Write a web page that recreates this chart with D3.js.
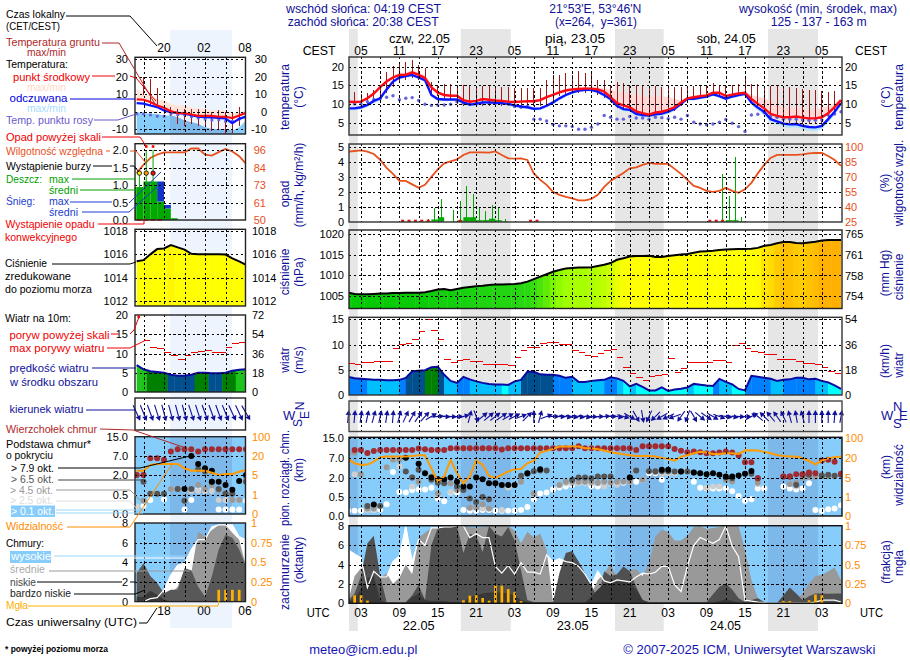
<!DOCTYPE html>
<html><head><meta charset="utf-8"><title>Meteogram</title>
<script src="https://cdn.jsdelivr.net/npm/d3@7"></script>
<style>html,body{margin:0;padding:0;background:#fff}svg{display:block}text{font-family:"Liberation Sans",Arial,sans-serif}</style>
</head><body><svg id="c" width="910" height="660"></svg>
<script>
// ---------- main meteogram data (hours since 00 UTC 22.05) ----------
const hours = d3.range(1,79);
const tMid = [10.6,10.5,10.6,11.5,12.8,14.5,16,17.1,17.8,17.8,
 18.5,17.8,17,14.4,13,12.4,12.2,12.2,11,10.6,
 10.8,11.3,11.1,10.9,10.8,10.6,10.5,10.6,10.7,10.7,
 11,11.8,12.4,13.1,13.6,13.9,14,14.1,14.1,13.9,
 13.3,11.8,10.2,9.6,9.1,8,7.5,7.1,7.7,7.9,
 8.4,9.1,10.4,11.5,11.8,12.1,12.3,13,13,12.1,
 12.5,12.8,13,11.3,10,8.8,7.3,6.8,6.4,6.4,
 6.6,6.3,6.1,6.1,6.4,7.5,9.1,11];
const tMax = [10.9,10.8,11,12,13,15,16.5,17.6,18.4,18.5,
 19,18.5,17.5,15,13.5,12.8,12.5,12.5,11.4,11,
 11.2,11.6,11.4,11.2,11.2,11,10.9,11,11.1,11.1,
 11.5,12.2,12.9,13.6,14.1,14.4,14.5,14.6,14.6,14.5,
 14.2,13.8,13.3,13,12.6,12.4,12.2,12,12,12,
 11.9,11.3,11,11.8,12.1,12.4,12.6,13.2,13.2,12.5,
 12.8,13,13.3,12.4,11.9,11.5,10.8,9.6,9.3,9,
 8.8,8.6,8.4,8.2,9,9.5,10.2,11.4];
const fMid = [8.8,8.8,9.1,9.7,10.8,11.5,13.9,16,17.1,17.5,
 17.8,17.1,16.4,12.4,11.3,11.2,11.2,11.2,10.4,9.8,
 10,10.4,10.4,10.3,10.2,10,9.6,9.3,9.1,8.7,
 8.8,9.5,10.4,11.5,12.4,13.1,13.6,13.8,13.8,13.3,
 12.4,11.3,9.5,8.6,8.4,7.3,7,6.9,7.2,7.4,
 7.9,8.7,10,11.4,11.4,11.7,12,12.6,12.1,11.4,
 12,12.4,12.7,10.4,9,7.9,5.9,5.3,4.7,4.5,
 4.6,4.1,3.8,3.7,4.1,5.9,7.9,10.2];
const fMin = [8.3,8.3,8.5,9.2,10.2,10.9,13.2,15.4,16.6,17,
 17.3,16.6,15.8,11.9,10.8,10.7,10.8,10.7,9.9,9.3,
 9.5,9.9,9.9,9.8,9.8,9.6,9.1,8.8,8.6,8.2,
 8.3,9,9.9,11,11.9,12.6,13.1,13.3,13.3,12.8,
 11.9,10.7,8.9,8,7.8,6.7,6.4,6.3,6.6,6.8,
 7.3,8.1,9.5,10.9,10.9,11.2,11.5,12.1,11.6,10.9,
 11.5,11.9,12.2,9.7,8.2,7,5.1,4.4,3.8,3.6,
 3.7,3.1,2.8,2.7,3.2,5,7,9.5];
const dewPoint = [9.7,10,10,10.6,11.2,11.4,11.8,12.2,11.1,11.5,
 11.7,10.9,9.9,9.6,9.7,9.7,9.9,10.6,10.2,10,
 10.5,10.2,10.2,10.2,10.2,10,9.3,9.1,9.3,5.9,
 5.9,5.4,4.5,4.1,4.1,3.9,3.2,3.2,3.7,4.6,
 6.9,6.4,5.9,5.9,6.6,6.2,6.2,5.9,6.4,6.3,
 6,6.4,5.9,6.9,5.1,4.6,4.4,4.6,5.1,5.8,
 4.8,3.9,2.6,7,7.2,7.7,6.6,6.4,5.9,5.9,
 5.9,5.7,5.6,5.6,5.7,7,7.3,7.9];
const groundMax = [10,13.3,12.6,13,13.8,15.1,18.7,20.3,20.9,21.2,
 21.8,20.4,19.6,15.8,15.1,15.4,15.3,15.1,15,15,
 14.8,14.8,14.8,14.6,14.5,14.5,14.2,14.2,14.2,14.2,
 14.2,16.4,17.8,17.9,18.4,17.9,18.9,18.4,18,16.4,
 16.4,15.1,15.8,15.5,15.1,15,14.9,14.8,14.8,14.6,
 15.1,14.5,14.5,14.5,14.8,14.8,14.8,15.5,15.1,14.8,
 15.1,15.3,16.6,15.4,15.3,14.9,14.8,14.8,14.5,14.6,
 14.3,13.9,13.8,13.8,13.6,13.3,13.5,11.1];
const groundMin = [10,9.8,10,10,10.5,11.5,13,14.5,16,16.5,
 17,16.5,15.5,13,12,11,11,10,9.5,9.5,
 9.5,9.5,9.5,9.5,9.5,9.5,9.5,9.5,9.5,9.5,
 9.5,10,11,12,12.5,13,13,13,13,12.5,
 11.5,10.5,9,8.5,8,7,7,6.5,7,7,
 7.5,8,9.5,11,11.5,11.5,12,12.5,12,11.5,
 12,12,12,10,9,7.5,6,6,5.5,5,
 5,4.5,4.5,4.5,5,6,8,10];
const humidity = [95.3,96,96.7,95.3,93,87,79,73,66,66,
 62.5,59,62,70,77.5,83.6,85.6,87.6,92,94.6,
 94.6,94.6,94.3,95.6,92,88.6,88.3,88.6,87,73.5,
 67,62,55,52,50,48.4,46.4,46.4,47.8,52,
 60,66,70,74,78.6,79.6,82,84,83,83,
 83,78,73,67,61,59,56,55,56,59,
 56,54,57.5,64,73.5,82,89,92,92,92,
 92,92.6,93.6,94,94,91,87,81];
const rainHours = [13,14,15,17,18,19,20,21,22,23,24,25,59,60,61,62];
const rainMaxV  = [.2,.9,1.5,.8,1.4,2.4,1.85,1,.7,1.1,1,.15,3.2,1.75,4.3,.3];
const rainAvgV  = [.03,.15,.3,.02,.08,.3,.3,.1,.1,.2,.1,.03,.03,.1,.1,.03];
const convHours = [9,10,11,12,13,18,29,30,57,58,59];
const pressure = [1005.8,1005.5,1005.4,1005.4,1005.5,1005.6,1005.6,1005.7,1005.7,1005.8,
 1005.8,1005.8,1005.9,1006.2,1006.6,1006.7,1006.4,1006.7,1007,1007.2,
 1007.35,1007.5,1007.7,1007.8,1007.8,1007.85,1007.9,1008.1,1008.5,1009.1,
 1009.7,1010.3,1010.9,1011.3,1011.7,1011.8,1011.9,1011.9,1012,1012.3,
 1012.6,1013,1013.8,1014.2,1014.6,1014.7,1014.7,1014.8,1014.5,1014.5,
 1014.7,1014.9,1015.1,1015.2,1015.5,1015.8,1015.9,1016,1016.2,1016.3,
 1016.35,1016.4,1016.4,1016.5,1016.7,1017.2,1017.4,1017.8,1018.1,1018.1,
 1017.9,1017.8,1018,1018.2,1018.5,1018.6,1018.6,1018.6];
const windSpeed = [3.6,3.3,3.2,3.1,3,3,2.9,2.9,3,3.4,
 4.7,4.8,4.9,5.5,5.6,4,2.8,2.4,3.6,3.1,
 2.7,2.4,2.2,2.1,2.1,2,2.7,3,4.6,4.6,
 4.1,4,4,3.8,3.4,3.6,2.6,2.6,2.8,2.9,
 3,3.5,3.3,2.8,1.7,2.2,1.6,.9,.9,1.5,
 .8,1.1,1.25,1.5,2.2,2.04,1.9,1.8,3.2,2.6,
 2.1,1.2,.9,3.8,3.6,3.4,3.2,2.8,3,3.1,
 3.4,3.4,3.1,3.2,2.8,2.5,1.9,1.2];
const windGust = [6.7,6.3,6.1,6.5,6.5,6.75,6.75,6.75,9.25,10.1,
 10.3,11,12.6,15,12.8,11,7.1,6.5,6.9,7.1,
 6.7,6.7,6.1,6.1,6.1,6.1,5.9,7.5,9,9.6,
 9.6,10.4,10.6,10.6,10.2,10.2,9,8.5,7.9,7.7,
 8.3,8.9,9.2,7.5,5.5,4.3,3.5,2.9,3.8,4,
 4.1,7.3,4.5,5.3,6.5,6.5,6.5,6.5,6.9,6.9,
 6.5,9.9,10.3,9.3,8.7,8.5,8.1,8.1,7.1,7.1,
 7.1,6.7,6.3,6.3,6.1,5.5,4.7,4.3];
const windDir = [5,5,8,12,15,12,8,5,15,25,
 30,35,42,60,85,95,95,90,75,15,
 160,50,50,52,55,60,62,70,45,0,
 15,70,90,95,100,100,100,100,95,90,
 85,90,100,105,120,150,170,205,225,240,
 245,250,215,200,150,130,125,120,110,100,
 100,95,90,60,-50,-45,-40,-35,-25,-15,
 -10,-15,0,0,0,0,5,10];
const cloudTop = [null,10.3,10.3,9.1,9.9,10.3,10.3,10.3,10.3,10.3,
 10.3,10.9,10.6,10.3,10.3,10.3,11,11,11,11,
 11,11,11,11,10.5,11,11,11,11,11,
 11,11,11,11,11,11,11.7,11,11,11,
 11,11,11,11,11,10.3,11.7,11.7,11.7,11.7,
 11.7,10.7,10,9.4,9.7,9.4,9,9,9.3,9.7,
 9.3,8.1,6,6,1.95,null,null,null,2.25,2.25,
 2.85,2.85,3.3,3.1,6.4,6.6,6.1,2.95];
const base79 = [[5,.3],[10,7.2],[12,5.55],[13,3.1],[14,2],[15,1.87],[16,1.87],[17,2],[18,1.68],[19,1.3],[20,1.3],[21,2],[22,1.87],[23,1.55],[24,1.55],[25,1.42],[26,1.42],[27,1.42],[29,3.1],[31,4.15],[45,2],[50,4],[51,4],[53,3.55],[55,3.3],[56,3.1],[57,2.85],[58,3.1],[59,2.7],[60,2.26],[61,2.26],[62,2.5],[63,2.95],[64,3.7]];
const base65 = [[4,.26],[6,.26],[10,3.55],[11,2],[12,4],[14,1.82],[15,1.6],[16,1.55],[18,1.3],[19,1.03],[20,.46],[21,.37],[22,.5],[23,.44],[28,2.43],[29,3],[30,3.65],[31,3.8],[32,3.8],[36,1.82],[37,2],[38,2],[39,1.95],[40,2.26],[41,2.26],[42,2.26],[45,2],[46,3.8],[48,3.65],[49,3.65],[50,3.65],[51,3.65],[52,3.55],[53,3.55],[54,3.55],[55,3.3],[60,2],[61,1.95],[64,2.95],[65,1.95],[69,2.26],[70,2.26],[71,1.42],[72,2.7],[73,2.7],[75,2.5],[76,2.7],[77,2.43],[78,2.7]];
const base45 = [[1,9],[2,9.3],[3,2.85],[4,.2],[5,.2],[7,4.7],[8,6.6],[9,6.6],[11,2],[12,1.68],[14,2.26],[15,.76],[17,1.55],[18,1.03],[19,1.03],[20,.22],[21,.22],[22,.31],[23,.2],[28,1.68],[30,.76],[34,1.42],[35,1.68],[36,1.68],[37,1.68],[38,1.68],[39,1.68],[40,1.6],[41,1.68],[42,1.6],[43,1.68],[44,1.68],[45,1.68],[47,1.82],[49,3.4],[60,1.8],[61,1.7],[65,1.6],[70,1.5],[71,1.6],[72,2],[73,2.1],[74,2.2],[75,2.3],[76,2.3],[77,2.3]];
const base25 = [[2,2.85],[4,.16],[5,.16],[7,4.7],[8,6.6],[9,4.85],[11,1.3],[12,1.68],[15,.63],[17,.89],[20,.22],[21,.22],[22,.2],[23,.2],[25,.16],[26,1.24],[27,1.42],[30,.68],[34,1.42],[35,1.55],[36,1.55],[37,1.55],[38,1.55],[39,1.55],[40,1.55],[41,1.3],[43,1.45],[45,1.7],[47,1.8],[50,3],[51,3],[52,3.2],[57,1.2],[58,1.3],[59,1.3],[65,1.5],[70,1.5],[71,1.3]];
const base01 = [[1,.14],[2,.14],[3,.14],[5,.16],[6,.17],[7,.31],[8,3.4],[9,.89],[10,.84],[11,1.03],[12,1.08],[13,1.08],[14,1.21],[15,.46],[16,.39],[17,.84],[18,.84],[19,.16],[20,.14],[21,.14],[22,.16],[23,.16],[24,.14],[25,.14],[26,.14],[27,.14],[28,.16],[29,.24],[30,.44],[31,.76],[32,.84],[33,1.08],[34,1.24],[35,1.3],[36,1.42],[37,1.6],[38,1.6],[39,1.34],[40,1.3],[41,1.6],[42,1.55],[43,1.6],[44,1.6],[45,1.68],[46,1.68],[47,1.82],[48,3.1],[49,3.1],[50,1.82],[51,3.55],[55,1.68],[56,1.21],[57,1.16],[58,1.16],[59,1.16],[60,1.16],[61,.95],[62,.58],[63,.4],[64,.44],[65,1.16],[66,1.16],[69,1.3],[70,1.16],[71,1.08],[72,1.16],[73,1.55],[74,.16],[75,.13],[76,.18],[77,.2],[78,.28]];
const visibility = [19.5,16.1,14.8,15.1,17.4,24,26.7,26.7,26.7,26.7,
 29.3,32,32,12.2,4.2,5.8,18.7,8.4,3.8,5.8,
 18.2,15,6.3,4.9,7.1,9.7,11.5,11.7,16.1,18.2,
 42.7,49.3,57.3,66.7,66.7,66.7,66.7,60,60,56,
 50.7,44,40,36,32,29.3,29.3,29.3,26.7,21.3,
 19.7,18.2,26.7,32,40,45.3,42.7,37.3,37.3,40,
 40,37.3,50.7,52,50.7,45.3,40,33.3,29.3,26.7,
 26.7,20,17.9,15.3,18.2,20,24,26.7];
const cloudHigh = [5.5,5.1,4.7,1.6,3.3,2.7,2.7,4.3,4.9,8,
 4.3,6.6,6,7.8,7.8,7.9,7.9,8,8,6.8,
 7.2,6.8,6.8,3.8,3.1,3.9,3,4.2,3.2,3.2,
 3,5,4.3,4.6,4.3,4.2,3.8,3,1.9,3.3,
 2.3,2.1,2.4,2.3,2.2,2.7,3.1,3,3.2,3.8,
 3.8,1.9,1.2,3.8,6,6.8,6.5,6.2,6.6,8,
 5.9,4.8,.3,.2,.1,.05,0,0,0,0,
 0,0,.02,.1,.3,.3,.3,.1];
const cloudMid = [.2,2.8,3.6,3.1,2.6,2.6,3.1,2,2.6,4,
 3,6.8,7.3,7.8,7.9,8,8,8,8,7.9,
 7.8,7.9,8,8,8,8,7.5,6.2,7.4,6.8,
 7.2,5.5,.1,.3,.3,.2,.2,.2,1,2.4,
 3.1,4.1,2.6,2.8,3.4,3.5,2.8,4.1,6.9,7.6,
 7.4,6.5,6.5,7,7.9,8,7.7,7.8,7.9,8,
 8,8,5.5,2.4,.5,.1,0,0,0,0,
 .2,1,2,2.8,2.9,3.3,3.7,2.4];
const cloudLow = [.2,1,2.8,6.2,7,2.8,.1,.1,.07,.1,
 .8,1.9,.3,6,7.8,7.9,8,8,5.2,7.2,
 7,5.3,8,7.2,6.9,7.9,6.5,3.4,.3,.1,
 .1,.1,.1,3.1,5.2,5.4,4.3,3.1,1.9,.3,
 3.3,2.8,3,3.8,3.3,1.7,.3,.1,.1,.1,
 .1,.1,.1,.1,.1,.1,.1,.9,1.7,2,
 1.4,.5,.1,.3,.5,.1,0,0,.8,1.6,
 1,.3,.7,1,1,.95,1,1];
const cloudVeryLow = [.1,.5,1.4,2.6,2.8,.3,0,0,0,0,
 .6,1,.3,.2,.2,.2,.1,.1,.1,.6,
 .8,1,1.1,1.1,1.1,1,.8,.3,.1,0,
 0,0,0,0,0,0,0,0,.7,1.4,
 2,2.1,2.2,2.2,2,1.4,.3,0,0,0,
 0,0,0,0,0,0,0,0,.2,.4,
 .2,0,0,0,0,0,0,0,0,0,
 0,0,0,0,0,0,0,0];
const fogHours = [2,3,4,19,20,21,22,23,24,25,26,27,28,69,70,73,74,75];
const fogV = [.1,.1,.03,.035,.095,.1,.065,.03,.23,.225,.18,.14,.025,.025,.025,.035,.11,.1];

// ---------- left legend-example data ----------
const leftHours = d3.range(14,31);
const lTMid = [6.9,6.7,5.4,3.4,2.1,.2,-1,-1,-1.7,-2.5,-2.5,-2.5,-3,-3,-3.8,-2.3,-.8];
const lFMid = [4.8,4.5,3.4,2.5,.6,-.4,-.8,-1.3,-2.1,-3,-3.2,-3.4,-3.6,-4,-6.7,-4.2,-2.9];
const lTMax = [13,10.2,9.2,7.3,6.3,4.4,3.4,3.4,2.5,1.5,1.5,.6,.6,.2,-1,-.4,.6];
const lFMin = [-.4,-.8,-1.3,-1.3,-2.3,-2.3,-3.3,-5.2,-6.1,-7.1,-9,-10,-10,-10,-10.9,-9,-5.2];
const lDew = [-1.3,-1.3,-1.9,-2.7,-2.7,-1.3,-1.7,-1.7,-2.9,-3.6,-4.2,-4.8,-4.6,-5.6,-5.6,-4.2,-3.3];
const lGMax = [null,20,18.8,13.6,2.5,2.5,1.5,1.5,1.5,1.5,1.5,-.4,.6,-.4,-.4,2.5,-.4];
const lGMin = [null,9.2,4,2,-1.3,-2.3,-7.1,-8,-7.1,-8,-9,-10.9,-10,-12.8,-12.5,-8,-2.3];
const lHumidity = [80.8,86.3,90.7,93,94.4,94.4,94.4,94.4,97,97,93,92.3,94.6,96.7,95,91.9,87];
const lRainHours = [13,14,15,16,17,18,19];
const lRain = [.94,.94,1.1,1.1,.53,.33,.05];
const lSnow = [0,0,0,0,.57,.1,0];
const lRainMaxHours = [14,15,16];
const lRainMax = [1.3,2,2];
const lOverflowHours = [15,16];
const lStormHours = [14,15,16];
const lStormLevel = 1.34;
const lOverflowLevel = 2.1;
const lConvHours = [14,15,16,17];
const lPressure = [1015.4,1015.5,1016,1016.45,1016.5,1016.8,1016.6,1016.4,1016.05,1016,1016,1016,1016,1015.98,1015.65,1015.4,1015.1];
const lWind = [7,5.9,5.4,5.2,5,4.5,4.2,4.2,4.5,5,5,4.9,4.9,5,5.5,5.8,5.9];
const lGust = [null,13.4,11.6,11.3,10.4,9.6,8.7,9.7,10.4,10.7,10.8,10.4,10.4,11.6,12.6,12.9,null];
const lDir = [155,158,160,162,165,165,165,165,162,162,160,160,160,158,155,155,150];
const lTop = [2,2,6.4,6.4,6,8.8,9.8,9.8,9.8,8.8,9.8,9.8,9.8,9.8,9.8,9.8,9.8];
const l79 = [[21,.95],[22,7],[23,4.9],[24,3.8],[25,3.1],[25,1.5],[26,1.5],[27,1.25],[28,.9],[29,1.55],[30,2]];
const l65 = [[15,1.5],[16,.6],[17,.6],[18,.6],[20,.95],[21,.35],[22,.95],[23,3.5],[24,2.9],[25,1.5],[26,.95],[27,.6],[28,.6],[30,1.5]];
const l45 = [[14,2],[15,.35],[19,.95],[20,.95],[23,1.25],[24,.95],[25,1.25],[26,.9],[27,.65],[28,.37],[29,.37],[30,1.7]];
const l25 = [[14,.2],[19,.95],[20,.95],[21,.9],[22,.8],[23,.8],[24,.8],[25,.8],[26,.37],[27,.37],[28,.37],[29,.37]];
const l01 = [[15,.22],[16,.37],[18,.39],[21,.12],[22,.37],[23,.9],[24,.9],[26,.12],[27,.12],[28,.12],[29,.12],[30,.35]];
const lVis = [8.4,8.4,12.9,13.7,13.7,13.7,13.7,10.3,8.4,8.4,8.4,6.8,5,5.8,5.8,7.6,8.9];
const lHigh = [0,0,.3,.4,1.2,2.7,3.7,3.9,5.3,6.3,6.3,7.6,7.8,7.8,7.8,6.6,6.3];
const lMidC = [0,0,.2,.4,.85,.85,1.5,3.2,2.9,7.1,6.6,7.3,7.8,7.8,7,6.3,3.6];
const lLow  = [2.9,3.9,2.6,1.9,.85,1.2,1.2,3.4,3.2,1.5,.5,2.55,5.3,6.8,6.5,5.3,3.6];
const lVLow = [.5,.5,1.1,.7,.2,0,0,0,0,0,0,0,0,0,0,0,0];
const lFogHours = [26,27,28,29];
const lFog = [.15,.15,.15,.15];

// ---------- labels ----------
const cestLabels = ['05','11','17','23'];
const utcLabels = ['03','09','15','21'];
const nightSpans = [[-1,2.5],[18.6,26.4],[42.7,50.3],[66.6,74.4]];
const dateCest = ['czw, 22.05','pią, 23.05','sob, 24.05'];
const dateUtc = ['22.05','23.05','24.05'];

// ---------- scales ----------
const svg = d3.select('#c');
const xM = d3.scaleLinear().domain([3,75]).range([361,821.8]);
const xL = d3.scaleLinear().domain([18,30]).range([164,246]);
const M = {x0:349,x1:842,ticks:d3.range(3,76,3),x:xM};
const L = {x0:135,x1:245.5,ticks:[15,18,21,24,27],x:xL};
const NAVY='#10109a', ORANGE='#ff8c00', HUM='#e8501c';
const dec1 = d3.format('.1f');

const colPressure = d3.scaleLinear().domain([1005,1007,1009,1010.5,1011.5,1014.4,1016.6,1017.5,1018.5])
  .range(['#00c800','#18d010','#33dc11','#66ee00','#99ff00','#ffff00','#ffff00','#ffd800','#ffb000']).clamp(true);
const colWind = d3.scaleThreshold().domain([2.05,3.05,4,5,5.8])
  .range(['#00ffff','#00bfff','#0080ff','#004f8f','#008000','#1cc41c']);

// ---------- backgrounds ----------
const bg = svg.append('g');
nightSpans.forEach(s=>{
  const a=Math.max(xM(s[0]),349);
  bg.append('rect').attr('x',a).attr('y',29).attr('width',xM(s[1])-a).attr('height',602).attr('fill','#e6e6e6');
});
bg.append('rect').attr('x',170).attr('y',30).attr('width',62).attr('height',598).attr('fill','#eef4fd');

// ---------- helpers ----------
let clipN=0;
function clip(P,y0,y1){
  const id='cp'+(clipN++);
  svg.append('clipPath').attr('id',id).append('rect').attr('x',P.x0).attr('y',y0).attr('width',P.x1-P.x0).attr('height',y1-y0);
  return svg.append('g').attr('clip-path','url(#'+id+')');
}
function grid(P,y0,y1,ys){
  const g=svg.append('g').attr('stroke','#000').attr('stroke-width',1).attr('stroke-dasharray','2.4,2.4').attr('shape-rendering','crispEdges');
  P.ticks.forEach(h=>g.append('line').attr('x1',Math.round(P.x(h))+.5).attr('x2',Math.round(P.x(h))+.5).attr('y1',y0).attr('y2',y1));
  ys.forEach(y=>g.append('line').attr('x1',P.x0).attr('x2',P.x1).attr('y1',Math.round(y)+.5).attr('y2',Math.round(y)+.5));
}
function frame(P,y0,y1,c){
  svg.append('rect').attr('x',P.x0).attr('y',y0).attr('width',P.x1-P.x0).attr('height',y1-y0)
    .attr('fill','none').attr('stroke',c||'#222').attr('stroke-width',1.4);
}
function axis(kind,scale,x,vals,color,fmt){
  const a=(kind==='l'?d3.axisLeft:d3.axisRight)(scale).tickValues(vals).tickSize(0).tickPadding(0).tickFormat(fmt||(d=>String(d)));
  const g=svg.append('g').attr('transform','translate('+x+',0)').call(a);
  g.select('.domain').remove();
  g.attr('font-family',null).attr('font-size',null);
  g.selectAll('text').attr('fill',color||'#000').style('font-size','11px');
}
function txt(t,x,y,c,o){o=o||{};
  const e=svg.append('text').attr('x',x).attr('y',y).attr('fill',c||'#000').style('font-size',(o.s||11)+'px')
    .attr('text-anchor',o.a||'start');
  if(o.ls!=null)e.style('letter-spacing',o.ls+'px');
  if(o.L)e.attr('textLength',o.L).attr('lengthAdjust','spacingAndGlyphs');
  if(o.w)e.style('font-weight',o.w);
  e.text(t);return e;
}
function vtxt(t,x,y,L){
  const e=svg.append('text').attr('transform','translate('+x+','+y+') rotate(-90)').attr('text-anchor','middle')
   .attr('fill',NAVY).style('font-size','12px');
  if(L)e.attr('textLength',L).attr('lengthAdjust','spacingAndGlyphs');
  return e.text(t);
}
function lead(pts,c,w){
  svg.append('path').attr('d',d3.line()(pts)).attr('fill','none').attr('stroke',c).attr('stroke-width',w||1);
}
function stepFill(P,g,H,y,V,col,lo,hi,yBase){
  const id='cp'+(clipN++);
  const X=i=>P.x(H[i]);const I=d3.range(H.length);
  svg.append('clipPath').attr('id',id).append('path').attr('d',d3.area().x(X).y0(yBase).y1(i=>y(V[i]))(I));
  const gg=g.append('g').attr('clip-path','url(#'+id+')');
  gg.selectAll('rect').data(I).join('rect').attr('x',i=>P.x(H[i]+lo)).attr('width',i=>P.x(H[i]+hi)-P.x(H[i]+lo)+.4)
    .attr('y',yBase-200).attr('height',200).attr('fill',i=>col(V[i]));
}
function dots(g,P,pairs,y,c,r){
  g.selectAll(null).data(pairs).join('circle').attr('cx',d=>P.x(d[0])).attr('cy',d=>y(d[1])).attr('r',r||3).attr('fill',c);
}
function arrows(P,H,D,cy,len,head){
  const g=svg.append('g').attr('stroke',NAVY).attr('fill',NAVY).attr('stroke-width',1.1);
  H.forEach((h,i)=>{
    const a=g.append('g').attr('transform','translate('+P.x(h)+','+cy+') rotate('+D[i]+')');
    a.append('line').attr('y1',len/2).attr('y2',-len/2+head);
    a.append('path').attr('d',d3.line()([[0,-len/2],[-head*.55,-len/2+head],[head*.55,-len/2+head]])+'Z').attr('stroke','none');
  });
}

// ================= MAIN PANELS =================
// temperature
(function(){
  const y=d3.scaleLinear().domain([5,20]).range([122.5,66.7]);
  const g=clip(M,57,135),I=d3.range(78),X=i=>xM(hours[i]);
  g.append('path').attr('d',d3.area().x(X).y0(i=>y(tMid[i])).y1(i=>y(tMax[i]))(I)).attr('fill','#ffd8d8');
  g.append('path').attr('d',d3.area().x(X).y0(i=>y(fMid[i])).y1(i=>y(fMin[i]))(I)).attr('fill','#b4e2ff');
  g.selectAll(null).data(I).join('line').attr('x1',X).attr('x2',X).attr('y1',i=>y(groundMin[i])).attr('y2',i=>y(groundMax[i])).attr('stroke','#a01818').attr('stroke-width',1).attr('shape-rendering','crispEdges');
  g.selectAll(null).data(I).join('circle').attr('cx',X).attr('cy',i=>y(dewPoint[i])).attr('r',1.7).attr('fill','#6464dc');
  g.append('path').attr('d',d3.line().x(X).y(i=>y(fMid[i]))(I)).attr('fill','none').attr('stroke','#0a14ff').attr('stroke-width',2.4);
  g.append('path').attr('d',d3.line().x(X).y(i=>y(tMid[i]))(I)).attr('fill','none').attr('stroke','#ff0a14').attr('stroke-width',2.4);
  grid(M,57,135,[y(20),y(15),y(10),y(5)]);frame(M,57,135,'#333');
  axis('l',y,344,[20,15,10,5]);axis('r',y,845,[20,15,10,5]);
})();
// precipitation + humidity
(function(){
  const y=d3.scaleLinear().domain([0,5]).range([221.7,147]);
  const yH=d3.scaleLinear().domain([25,100]).range([221.7,147]);
  const g=clip(M,144,222),I=d3.range(78),X=i=>xM(hours[i]);
  g.selectAll(null).data(rainHours).join('rect').attr('x',h=>xM(h)).attr('width',6.4).attr('y',(h,i)=>y(rainAvgV[i])).attr('height',(h,i)=>y(0)-y(rainAvgV[i])).attr('fill','#00a800');
  g.selectAll(null).data(rainHours).join('line').attr('x1',h=>xM(h+.5)).attr('x2',h=>xM(h+.5)).attr('y1',y(0)).attr('y2',(h,i)=>y(rainMaxV[i])).attr('stroke','#00a800').attr('stroke-width',1).attr('shape-rendering','crispEdges');
  g.selectAll(null).data(convHours).join('rect').attr('x',h=>xM(h+.5)-1.5).attr('y',y(0)-2).attr('width',3).attr('height',2.5).attr('fill','#e01010');
  g.append('path').attr('d',d3.line().x(X).y(i=>yH(humidity[i]))(I)).attr('fill','none').attr('stroke',HUM).attr('stroke-width',1.8);
  grid(M,144,222,[y(5),y(4),y(3),y(2),y(1)]);frame(M,144,222,'#333');
  axis('l',y,344,[5,4,3,2,1,0]);axis('r',yH,845,[100,85,70,55,40,25],HUM);
})();
// pressure
(function(){
  const y=d3.scaleLinear().domain([1005,1020]).range([296,234.3]);
  const yMm=d3.scaleLinear().domain([754,758,761,765]).range([296,275.7,255,234.3]);
  const g=clip(M,230,308.5),X=i=>xM(hours[i]),I=d3.range(78);
  stepFill(M,g,hours,y,pressure,colPressure,-.5,.5,308.5);
  g.append('path').attr('d',d3.line().x(X).y(i=>y(pressure[i]))(I)).attr('fill','none').attr('stroke','#000').attr('stroke-width',2);
  grid(M,230,308.5,[y(1020),y(1015),y(1010),y(1005)]);frame(M,230,308.5);
  axis('l',y,344,[1020,1015,1010,1005]);axis('r',yMm,845,[765,761,758,754]);
})();
// wind
(function(){
  const y=d3.scaleLinear().domain([0,15]).range([395,319.3]);
  const yK=d3.scaleLinear().domain([0,54]).range([395,319.3]);
  const g=clip(M,317.3,395),X=i=>xM(hours[i]),I=d3.range(78);
  stepFill(M,g,hours,y,windSpeed,colWind,-1,0,395);
  g.append('path').attr('d',d3.line().x(X).y(i=>y(windSpeed[i]))(I)).attr('fill','none').attr('stroke','#0a0aa0').attr('stroke-width',2);
  g.selectAll(null).data(I).join('line').attr('x1',i=>xM(hours[i]-1)).attr('x2',i=>xM(hours[i])).attr('y1',i=>Math.round(y(windGust[i]))+.5).attr('y2',i=>Math.round(y(windGust[i]))+.5).attr('stroke','#f00000').attr('stroke-width',1).attr('shape-rendering','crispEdges');
  grid(M,317.3,395,[y(15),y(10),y(5)]);frame(M,317.3,395,'#333');
  axis('l',y,344,[15,10,5,0]);axis('r',yK,845,[54,36,18,0]);
})();
// wind direction
grid(M,401,431.5,[]);
arrows(M,hours,windDir,416.5,13,5);
frame(M,401,431.5,'#444');
// cloud base
(function(){
  const y=d3.scaleLinear().domain([0,.5,2,7,15]).range([516,497,477.5,458.3,438]);
  const yV=d3.scaleLinear().domain([0,1,5,20,100]).range([516,497,477.5,458.3,438]);
  const g=clip(M,437.3,516),X=i=>xM(hours[i]),I=d3.range(78);
  g.append('rect').attr('x',349).attr('y',437).attr('width',493).attr('height',80).attr('fill','#87cdfb');
  nightSpans.forEach(s=>g.append('rect').attr('x',Math.max(xM(s[0]),349)).attr('y',437).attr('width',xM(s[1])-Math.max(xM(s[0]),349)).attr('height',80).attr('fill','#7cb8ea'));
  dots(g,M,base01,y,'#ffffff');dots(g,M,base25,y,'#cfcfcf');dots(g,M,base45,y,'#999999');dots(g,M,base65,y,'#555555');
  dots(g,M,hours.map((h,i)=>[h,cloudTop[i]]).filter(d=>d[1]!=null),y,'#a32a30');
  dots(g,M,base79,y,'#000000');
  g.append('path').attr('d',d3.line().x(X).y(i=>yV(visibility[i]))(I)).attr('fill','none').attr('stroke','#ff9a00').attr('stroke-width',2);
  grid(M,437.3,516,[y(15),y(7),y(2),y(.5)]);frame(M,437.3,516,'#111');
  axis('l',y,344,[15,7,2,.5,0],'#000',dec1);axis('r',yV,845,[100,20,5,1,0],ORANGE);
})();
// cloud cover
(function(){
  const y=d3.scaleLinear().domain([0,8]).range([603,526]);
  const yF=d3.scaleLinear().domain([0,1]).range([603,526]);
  const g=clip(M,525.7,603.3),X=i=>xM(hours[i]),I=d3.range(78);
  g.append('rect').attr('x',349).attr('y',525).attr('width',493).attr('height',80).attr('fill','#87cdfb');
  nightSpans.forEach(s=>g.append('rect').attr('x',Math.max(xM(s[0]),349)).attr('y',525).attr('width',xM(s[1])-Math.max(xM(s[0]),349)).attr('height',80).attr('fill','#7cb8ea'));
  const ar=(A,c)=>g.append('path').attr('d',d3.area().x(X).y0(603.5).y1(i=>y(A[i]))(I)).attr('fill',c);
  ar(cloudHigh,'#ffffff');ar(cloudMid,'#999999');ar(cloudLow,'#505050');ar(cloudVeryLow,'#383838');
  g.append('path').attr('d',d3.line().x(X).y(i=>y(cloudHigh[i]))(I)).attr('fill','none').attr('stroke','#fff').attr('stroke-width',1.2);
  g.selectAll(null).data(fogHours).join('rect').attr('x',h=>xM(h)-1.3).attr('width',2.7).attr('y',(h,i)=>yF(fogV[i])).attr('height',(h,i)=>603.5-yF(fogV[i])).attr('fill','#ffb000');
  grid(M,525.7,603.3,[y(6),y(4),y(2)]);frame(M,525.7,603.3,'#111');
  axis('l',y,344,[8,6,4,2,0]);axis('r',yF,845,[1,.75,.5,.25,0],ORANGE);
})();

// ================= LEFT PANELS =================
(function(){
  const y=d3.scaleLinear().domain([-10,30]).range([129,59]);
  const g=clip(L,57.3,134),I=d3.range(17),X=i=>xL(leftHours[i]);
  g.append('path').attr('d',d3.area().x(X).y0(i=>y(lTMid[i])).y1(i=>y(lTMax[i]))(I)).attr('fill','#ffe4da');
  const blue=d3.area().x(X).y0(135).y1(i=>y(lFMin[i]))(I);
  g.append('path').attr('d',blue).attr('fill','#87cdfb');
  const nid='cp'+(clipN++);
  svg.append('clipPath').attr('id',nid).append('path').attr('d',blue);
  g.append('rect').attr('x',170).attr('y',57).attr('width',62).attr('height',78).attr('fill','#7cb8ea').attr('clip-path','url(#'+nid+')');
  g.selectAll(null).data(I.filter(i=>lGMax[i]!=null)).join('line').attr('x1',X).attr('x2',X).attr('y1',i=>y(lGMin[i])).attr('y2',i=>y(lGMax[i])).attr('stroke','#a01818').attr('stroke-width',1).attr('shape-rendering','crispEdges');
  g.selectAll(null).data(I).join('rect').attr('x',i=>X(i)-1.3).attr('y',i=>y(lDew[i])-1.3).attr('width',2.8).attr('height',2.8).attr('fill','#6464dc');
  g.append('path').attr('d',d3.line().x(X).y(i=>y(lFMid[i]))(I)).attr('fill','none').attr('stroke','#0a14ff').attr('stroke-width',2.2);
  g.append('path').attr('d',d3.line().x(X).y(i=>y(lTMid[i]))(I)).attr('fill','none').attr('stroke','#ff0a14').attr('stroke-width',2.2);
  grid(L,57.3,134,[y(30),y(20),y(10),y(0),y(-10)]);frame(L,57.3,134);
  axis('l',y,128,[30,20,10,0,-10]);axis('l',y,267,[30,20,10,0,-10]);
})();
(function(){
  const y=d3.scaleLinear().domain([0,2]).range([220,150]);
  const yH=d3.scaleLinear().domain([50,96]).range([220,150]);
  const g=clip(L,143.7,220),I=d3.range(17),X=i=>xL(leftHours[i]);
  lRainHours.forEach((h,i)=>{
    const a=xL(h),b=xL(h+1)-a;
    g.append('rect').attr('x',a).attr('width',b).attr('y',y(lRain[i])).attr('height',y(0)-y(lRain[i])).attr('fill','#00a800');
    if(lSnow[i]>0)g.append('rect').attr('x',a).attr('width',b).attr('y',y(lRain[i]+lSnow[i])).attr('height',y(0)-y(lSnow[i])).attr('fill','#1434c8');
  });
  g.append('path').attr('d',d3.line().x(X).y(i=>yH(lHumidity[i]))(I)).attr('fill','none').attr('stroke',HUM).attr('stroke-width',1.8);
  lRainMaxHours.forEach((h,i)=>g.append('line').attr('x1',xL(h+.4)).attr('x2',xL(h+.4)).attr('y1',y(.9)).attr('y2',y(lRainMax[i])).attr('stroke','#00a800').attr('stroke-width',1));
  grid(L,143.7,220,[y(2),y(1.5),y(1),y(.5)]);
  lConvHours.forEach(h=>svg.append('rect').attr('x',xL(h)).attr('y',y(0)-1).attr('width',xL(h+1)-xL(h)-2).attr('height',1.6).attr('fill','#e01010'));
  frame(L,143.7,220);
  lOverflowHours.forEach(h=>svg.append('rect').attr('x',xL(h+.4)-1.3).attr('y',y(lOverflowLevel)-1.3).attr('width',2.6).attr('height',2.6).attr('fill','#f00'));
  const sc=['#ffee00','#ffa000','#f01010'];
  lStormHours.forEach((h,i)=>svg.append('circle').attr('cx',xL(h+.4)).attr('cy',y(lStormLevel)).attr('r',2.2).attr('fill',sc[i]).attr('stroke','#000').attr('stroke-width',.8));
  axis('l',y,128,[2,1.5,1,.5,0],'#000',dec1);axis('l',yH,266,[96,84,73,61,50],HUM);
})();
(function(){
  const y=d3.scaleLinear().domain([1012,1018]).range([301,231]);
  const g=clip(L,229.3,306),X=i=>xL(leftHours[i]),I=d3.range(17);
  stepFill(L,g,leftHours,y,lPressure,colPressure,-.5,.5,306);
  g.append('path').attr('d',d3.line().x(X).y(i=>y(lPressure[i]))(I)).attr('fill','none').attr('stroke','#000').attr('stroke-width',2);
  grid(L,229.3,306,[y(1018),y(1016),y(1014),y(1012)]);frame(L,229.3,306);
  axis('l',y,128,[1018,1016,1014,1012]);axis('r',y,252,[1018,1016,1014,1012]);
})();
(function(){
  const y=d3.scaleLinear().domain([0,20]).range([392,315]);
  const yK=d3.scaleLinear().domain([0,72]).range([392,315]);
  const g=clip(L,315,392),X=i=>xL(leftHours[i]),I=d3.range(17);
  stepFill(L,g,leftHours,y,lWind,colWind,-.5,.5,392);
  g.append('path').attr('d',d3.line().x(X).y(i=>y(lWind[i]))(I)).attr('fill','none').attr('stroke','#0a0aa0').attr('stroke-width',2);
  g.selectAll(null).data(I.filter(i=>lGust[i]!=null)).join('line').attr('x1',X).attr('x2',i=>xL(leftHours[i]+1)).attr('y1',i=>Math.round(y(lGust[i]))+.5).attr('y2',i=>Math.round(y(lGust[i]))+.5).attr('stroke','#f00000').attr('stroke-width',1).attr('shape-rendering','crispEdges');
  grid(L,315,392,[y(15),y(10),y(5)]);frame(L,315,392);
  svg.append('rect').attr('x',xL(14.3)-1.3).attr('y',315.5).attr('width',2.6).attr('height',2.6).attr('fill','#f00');
  axis('l',y,128,[20,15,10,5,0]);axis('r',yK,252,[72,54,36,18,0]);
})();
grid(L,398,430,[]);
arrows(L,leftHours,lDir,413,17,5);
frame(L,398,430);
(function(){
  const y=d3.scaleLinear().domain([0,.5,2,7,15]).range([514,495,475,456,436.5]);
  const yV=d3.scaleLinear().domain([0,1,5,20,100]).range([514,495,475,456,436.5]);
  const g=clip(L,436.7,514),X=i=>xL(leftHours[i]),I=d3.range(17);
  g.append('rect').attr('x',135).attr('y',436).attr('width',111).attr('height',80).attr('fill','#87cdfb');
  g.append('rect').attr('x',170).attr('y',436).attr('width',62).attr('height',80).attr('fill','#7cb8ea');
  dots(g,L,l01,y,'#ffffff');dots(g,L,l25,y,'#cfcfcf');dots(g,L,l45,y,'#999999');dots(g,L,l65,y,'#555555');
  dots(g,L,leftHours.map((h,i)=>[h,lTop[i]]),y,'#a32a30');
  dots(g,L,l79,y,'#000000');
  g.append('path').attr('d',d3.line().x(X).y(i=>yV(lVis[i]))(I)).attr('fill','none').attr('stroke','#ff9a00').attr('stroke-width',2);
  grid(L,436.7,514,[y(7),y(2),y(.5)]);frame(L,436.7,514);
  axis('l',y,128,[15,7,2,.5,0],'#000',dec1);axis('r',yV,252,[100,20,5,1,0],ORANGE);
})();
(function(){
  const y=d3.scaleLinear().domain([0,8]).range([601.6,523]);
  const yF=d3.scaleLinear().domain([0,1]).range([601.6,523]);
  const g=clip(L,523,601.6),X=i=>xL(leftHours[i]),I=d3.range(17);
  g.append('rect').attr('x',135).attr('y',522).attr('width',111).attr('height',81).attr('fill','#87cdfb');
  g.append('rect').attr('x',170).attr('y',522).attr('width',62).attr('height',81).attr('fill','#7cb8ea');
  const ar=(A,c)=>g.append('path').attr('d',d3.area().x(X).y0(602).y1(i=>y(A[i]))(I)).attr('fill',c);
  ar(lHigh,'#fff');ar(lMidC,'#999');ar(lLow,'#585858');ar(lVLow,'#383838');
  g.append('path').attr('d',d3.line().x(X).y(i=>y(lHigh[i]))(I)).attr('fill','none').attr('stroke','#fff').attr('stroke-width',1.2);
  g.selectAll(null).data(lFogHours).join('rect').attr('x',h=>xL(h)-1.3).attr('width',2.7).attr('y',(h,i)=>yF(lFog[i])).attr('height',(h,i)=>602-yF(lFog[i])).attr('fill','#ffb000');
  grid(L,523,601.6,[y(6),y(4),y(2)]);frame(L,523,601.6);
  axis('l',y,128,[8,6,4,2,0]);axis('r',yF,251,[1,.75,.5,.25,0],ORANGE);
})();

// ---------- time axes ----------
const H12={s:12,a:'middle',ls:.2};
d3.range(3,76,6).forEach((h,i)=>{
  txt(cestLabels[i%4],xM(h),55,'#000',H12);
  txt(utcLabels[i%4],xM(h),617,'#000',H12);
});
txt('CEST',302.7,55,'#000',{s:12,L:33});txt('CEST',855,55,'#000',{s:12,L:32});
txt('UTC',306.7,617,'#000',{s:12,L:23});txt('UTC',860,617,'#000',{s:12,L:23});
txt(dateCest[0],389,43,'#000',{s:12,L:61});txt(dateCest[1],545,43,'#000',{s:12,L:60});txt(dateCest[2],696.7,43,'#000',{s:12,L:59});
txt(dateUtc[0],402.7,630,'#000',{s:12,L:32});txt(dateUtc[1],556.7,630,'#000',{s:12,L:32});txt(dateUtc[2],710,630,'#000',{s:12,L:31});
['20','02','08'].forEach((t,i)=>txt(t,[164,204,245][i],52,'#000',H12));
['18','00','06'].forEach((t,i)=>txt(t,[164,204,245][i],615,'#000',H12));

// ---------- header / footer ----------
txt('wschód słońca: 04:19 CEST',286,12.5,NAVY,{s:12,L:155});
txt('zachód słońca: 20:38 CEST',287.7,26,NAVY,{s:12,L:151});
txt("21°53'E, 53°46'N",549.3,12.5,NAVY,{s:12,L:92});
txt('(x=264,  y=361)',555,26,NAVY,{s:12,L:82}).style('white-space','pre');
txt('wysokość (min, środek, max)',739,12.5,NAVY,{s:12,L:158});
txt('125 - 137 - 163 m',770.7,26,NAVY,{s:12,L:96});
txt('meteo@icm.edu.pl',309.3,654,'#1414b4',{s:13,L:108});
txt('© 2007-2025 ICM, Uniwersytet Warszawski',623.3,654,'#1414b4',{s:13,L:252});
txt('* powyżej poziomu morza',5,652,'#000',{s:9,w:'bold',L:103});

// ---------- rotated panel titles ----------
vtxt('temperatura',289,97,66);vtxt('(°C)',303,97);vtxt('(°C)',890,97);vtxt('temperatura',903,97,66);
vtxt('opad',289,194);vtxt('(mm/h, kg/m²/h)',303,185);vtxt('(%)',889,183);vtxt('wilgotność wzgl.',903,183);
vtxt('ciśnienie',289,272);vtxt('(hPa)',303,272);vtxt('(mm Hg)',889,273);vtxt('ciśnienie',903,277);
vtxt('wiatr',289,360);vtxt('(m/s)',303,360);vtxt('(km/h)',889,361);vtxt('wiatr',903,365);
vtxt('pion. rozciągł. chm.',289,478,96);vtxt('(km)',303,470);vtxt('(km)',890,467);vtxt('widzialność',903,475);
vtxt('zachmurzenie',289,572,76);vtxt('(oktanty)',303,560);vtxt('(frakcja)',890,562);vtxt('mgła',903,563);
// compass labels
txt('W',283,420,NAVY,{s:13});vtxt('N',304,406);vtxt('E',309,415);vtxt('S',302,423);
txt('W',881,420,NAVY,{s:13});txt('N',893,411,NAVY,{s:13});txt('E',899,420,NAVY,{s:13});txt('S',893,428,NAVY,{s:13});

// ---------- left legend ----------
const DR='#b02828', R='#f00000', B='#0000e0', G='#00a000', OR='#ff8c00', SN='#1c3cd0';
txt('Czas lokalny',6,18,'#000',{L:59});txt('(CET/CEST)',6,30,'#000',{L:54});lead([[66,16],[130,16],[157,46]],'#000');
txt('Temperatura gruntu',6,46,DR,{L:94});txt('max/min',27,56,DR,{L:39});lead([[102,43],[119,43],[155,104]],DR);
txt('Temperatura:',6,68,'#000',{L:62});
txt('punkt środkowy',13,81,R,{L:77});lead([[92,76],[115,76]],R);lead([[130,76],[136,78],[156,101]],R);
txt('max/min',27,91,'#ffd8c8',{L:39});
txt('odczuwana',9.5,102,B,{L:58});lead([[70,99],[135,99]],B);
txt('max/min',27,112,'#a8dcff',{L:39});
txt('Temp. punktu rosy',6,124,'#6a5acd',{L:87});lead([[94,120],[118,120],[136,114]],'#6a5acd');
txt('Opad powyżej skali',6,141,R,{L:95});lead([[102,137],[140,137],[146,146]],R);
txt('Wilgotność względna',6,155,HUM,{L:97});lead([[106,151],[110,151]],HUM);lead([[130,151],[136,151],[146,163]],HUM);
txt('Wystąpienie burzy',6,170,'#000',{L:85});lead([[93,166],[112,166]],'#000');lead([[130,166],[134,166],[139,172]],'#000');
txt('Deszcz:',6,183,G,{L:36});txt('max',49,183,G,{L:20});lead([[72,179],[136,179]],G);
txt('średni',49,194,G,{L:29});lead([[80,190],[136,190]],G);
txt('Śnieg:',6,205,SN,{L:29});txt('max',49,205,SN,{L:20});lead([[70,202],[112,202]],SN);lead([[129,203],[161,172]],SN);
txt('średni',49,216,SN,{L:29});lead([[82,212],[129,212],[157,187]],SN);
txt('Wystąpienie opadu',5.5,228,R,{L:89});lead([[98,224],[144,224],[144,220]],R);
txt('konwekcyjnego',5,241,R,{L:72});
txt('Ciśnienie',5,267,'#000',{L:42});lead([[52,264],[130,264],[136,262]],'#000');
txt('zredukowane',5,280,'#000',{L:66});txt('do poziomu morza',5,293,'#000',{L:87});
txt('Wiatr na 10m:',5,322,'#000',{L:66});
txt('poryw powyżej skali',9.5,339,R,{L:100});lead([[111,334],[119,334]],R);lead([[130,334],[134,330],[139,317]],R);
txt('max porywy wiatru',9.5,352,R,{L:95});lead([[107,348],[130,348],[146,340]],R);
txt('prędkość wiatru',9.5,372,NAVY,{L:79});lead([[92,368],[136,368]],NAVY);
txt('w środku obszaru',10,386,NAVY,{L:88});
txt('kierunek wiatru',9.5,413,NAVY,{L:74});lead([[86,410],[136,410]],NAVY);
txt('Wierzchołek chmur',6,433,DR,{L:91});lead([[100,429],[133,430],[183,447]],DR);
txt('Podstawa chmur*',6,448,'#000',{L:85});txt('o pokryciu',6,459,'#000',{L:47});
txt('> 7.9 okt.',11,472,'#000',{L:43});lead([[58,468],[140,468],[190,456]],'#000');
txt('> 6.5 okt.',11,483,'#555',{L:43});lead([[58,480],[143,480]],'#444');
txt('> 4.5 okt.',10,494,'#999',{L:43});lead([[56,490],[130,490],[140,500]],'#999');
txt('> 2.5 okt.',10,504,'#ddd',{L:43});lead([[56,501],[130,501],[138,510]],'#ddd');
svg.append('rect').attr('x',11).attr('y',505.5).attr('width',44).attr('height',11.5).attr('fill','#87cdfb');
txt('> 0.1 okt.',11,515,'#fff',{L:43});lead([[56,510],[143,510]],'#9bd6ff');lead([[56,513],[143,513]],'#9bd6ff');
txt('Widzialność',6,530,OR,{L:57});lead([[67,527],[130,527],[172,464]],OR);
txt('Chmury:',6,547,'#000',{L:38});
svg.append('rect').attr('x',10).attr('y',551).attr('width',41).attr('height',12).attr('fill','#87cdfb');
txt('wysokie',11,560,'#fff',{L:40});lead([[54,556],[185,556]],'#9bd6ff');lead([[54,558],[185,558]],'#fff');
txt('średnie',10,573,'#aaa',{L:35});lead([[49,571],[190,571]],'#999');
txt('niskie',10,586,'#444',{L:26});lead([[37,582],[122,582]],'#000');lead([[130,582],[135,582]],'#000');
txt('bardzo niskie',10,597,'#222',{L:61});lead([[74,594],[135,594],[145,590]],'#000');
txt('Mgła',6,609,'#ffb000',{L:22});lead([[28,606],[218,606],[219,600]],'#ffb000');
txt('Czas uniwersalny (UTC)',6,626,'#000',{L:131});lead([[139,623],[147,623],[157,608]],'#000');
</script></body></html>
